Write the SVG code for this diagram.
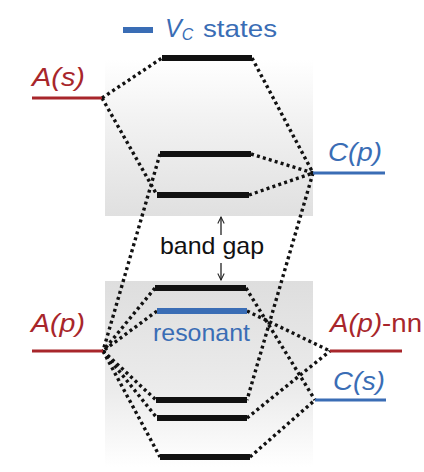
<svg xmlns="http://www.w3.org/2000/svg" width="424" height="472" viewBox="0 0 424 472">
<defs>
<linearGradient id="gTop" x1="0" y1="0" x2="0" y2="1">
<stop offset="0" stop-color="#ffffff"/>
<stop offset="0.35" stop-color="#f3f3f3"/>
<stop offset="1" stop-color="#e0e0e0"/>
</linearGradient>
<linearGradient id="gBot" x1="0" y1="0" x2="0" y2="1">
<stop offset="0" stop-color="#dedede"/>
<stop offset="0.6" stop-color="#ececec"/>
<stop offset="1" stop-color="#ffffff"/>
</linearGradient>
<marker id="ah" viewBox="0 0 10 10" refX="9" refY="5" markerWidth="8" markerHeight="8" orient="auto-start-reverse" markerUnits="userSpaceOnUse">
<path d="M1,1 L9,5 L1,9" fill="none" stroke="#222" stroke-width="1.3"/>
</marker>
</defs>
<style>
.lvl{stroke:#111;stroke-width:6;}
.blue{stroke:#3a6db5;}
.red{stroke:#a8262b;}
.orb{stroke-width:3;}
.dot{fill:none;stroke:#111;stroke-width:3.4;stroke-dasharray:3 3.2;}
.lbl{font-family:"Liberation Sans",Arial,sans-serif;font-size:25px;font-style:italic;}
.rt{fill:#a8262b;}
.bt{fill:#3a6db5;}
.plain{font-family:"Liberation Sans",Arial,sans-serif;font-size:24px;}
.arr{stroke:#222;stroke-width:1.3;}
</style>
<rect x="105" y="60" width="208" height="156" fill="url(#gTop)"/>
<rect x="105" y="281" width="208" height="186" fill="url(#gBot)"/>

<g id="connectors">
<line class="dot" x1="102" y1="98" x2="162" y2="58"/>
<line class="dot" x1="252" y1="58" x2="313" y2="173"/>
<line class="dot" x1="102" y1="98" x2="157" y2="195"/>
<line class="dot" x1="251" y1="154" x2="313" y2="173"/>
<line class="dot" x1="249" y1="195" x2="313" y2="173"/>
<line class="dot" x1="160" y1="154" x2="103" y2="351"/>
<line class="dot" x1="313" y1="173" x2="247" y2="400"/>
<line class="dot" x1="155" y1="288" x2="103" y2="351"/>
<line class="dot" x1="246" y1="288" x2="315" y2="400"/>
<line class="dot" x1="157" y1="311" x2="103" y2="351"/>
<line class="dot" x1="247" y1="311" x2="330" y2="351"/>
<line class="dot" x1="103" y1="351" x2="156" y2="400"/>
<line class="dot" x1="103" y1="351" x2="157" y2="418"/>
<line class="dot" x1="103" y1="351" x2="160" y2="457"/>
<line class="dot" x1="247" y1="418" x2="330" y2="351"/>
<line class="dot" x1="250" y1="457" x2="315" y2="400"/>
<line class="arr" x1="221" y1="235" x2="221" y2="217" marker-end="url(#ah)"/>
<line class="arr" x1="221" y1="263" x2="221" y2="280" marker-end="url(#ah)"/>
</g>

<g id="legend">
<line class="lvl blue" x1="123" y1="30" x2="153" y2="30"/>
<text class="lbl bt" x="165" y="37" font-size="22">V<tspan font-size="16" dy="3">C</tspan></text>
<text class="plain bt" x="203" y="37" textLength="74" lengthAdjust="spacingAndGlyphs">states</text>
</g>

<g id="vc-top"><line class="lvl" x1="162" y1="58" x2="252" y2="58"/></g>
<g id="vc-2"><line class="lvl" x1="160" y1="154" x2="251" y2="154"/></g>
<g id="vc-3"><line class="lvl" x1="157" y1="195" x2="249" y2="195"/></g>
<g id="vb-1"><line class="lvl" x1="155" y1="288" x2="246" y2="288"/></g>
<g id="resonant">
<line class="lvl blue" x1="157" y1="311" x2="247" y2="311"/>
<text class="plain bt" x="153" y="341" textLength="97" lengthAdjust="spacingAndGlyphs">resonant</text>
</g>
<g id="vb-2"><line class="lvl" x1="156" y1="400" x2="247" y2="400"/></g>
<g id="vb-3"><line class="lvl" x1="157" y1="418" x2="247" y2="418"/></g>
<g id="vb-4"><line class="lvl" x1="160" y1="457" x2="250" y2="457"/></g>

<g id="As">
<line class="orb red" x1="32" y1="98" x2="102" y2="98"/>
<text class="lbl rt" x="32" y="86" textLength="53" lengthAdjust="spacingAndGlyphs">A(s)</text>
</g>
<g id="Cp">
<line class="orb blue" x1="313" y1="173" x2="385" y2="173"/>
<text class="lbl bt" x="328" y="161" textLength="54" lengthAdjust="spacingAndGlyphs">C(p)</text>
</g>
<g id="Ap">
<line class="orb red" x1="32" y1="351" x2="103" y2="351"/>
<text class="lbl rt" x="31" y="332" textLength="54" lengthAdjust="spacingAndGlyphs">A(p)</text>
</g>
<g id="Apnn">
<line class="orb red" x1="330" y1="351" x2="402" y2="351"/>
<text class="lbl rt" x="330" y="332" textLength="92" lengthAdjust="spacingAndGlyphs">A(p)<tspan font-style="normal">-nn</tspan></text>
</g>
<g id="Cs">
<line class="orb blue" x1="315" y1="400" x2="386" y2="400"/>
<text class="lbl bt" x="333" y="390" textLength="52" lengthAdjust="spacingAndGlyphs">C(s)</text>
</g>
<g id="bandgap">
<text class="plain" x="160" y="254" textLength="104" lengthAdjust="spacingAndGlyphs" fill="#111">band gap</text>
</g>
</svg>
